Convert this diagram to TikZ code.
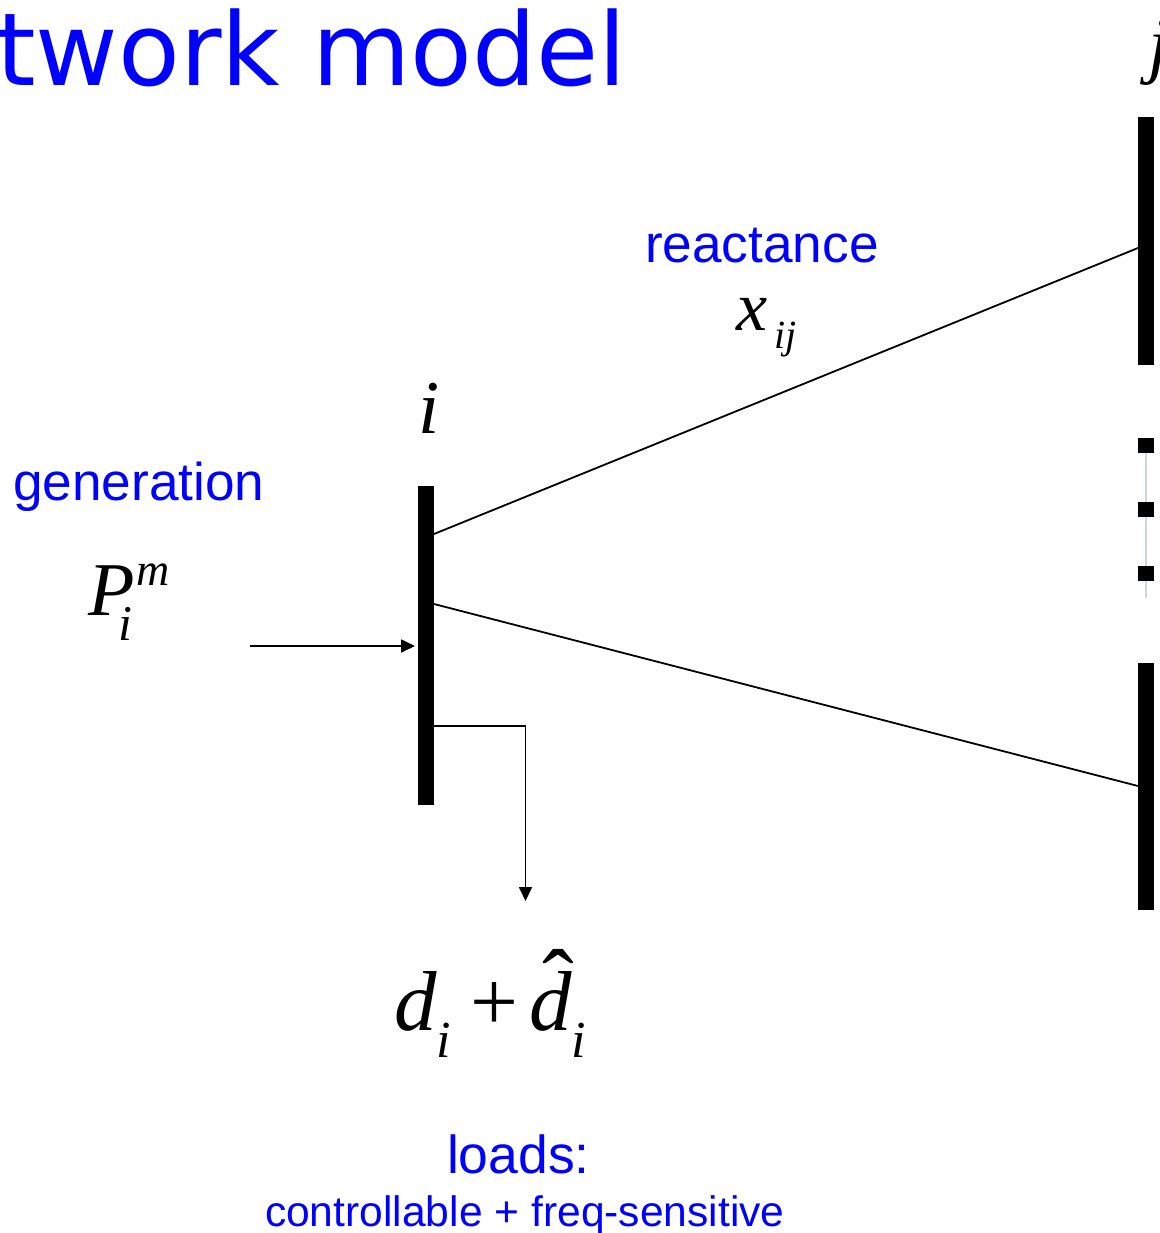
\documentclass[tikz,border=0pt]{standalone}
\usepackage{fontspec}
\setmainfont{Liberation Sans}
\newfontfamily\vera{DejaVu Sans}
\newfontfamily\tms{Liberation Serif}
\usetikzlibrary{arrows.meta}
\definecolor{tblue}{RGB}{0,0,255}
\definecolor{dotgray}{RGB}{208,214,222}
\newcommand{\fs}[1]{\fontsize{#1}{#1}\selectfont}
\tikzset{
  bus/.style={rectangle, fill=black, draw=none, inner sep=0pt, minimum width=16pt},
  busdot/.style={rectangle, fill=black, draw=none, inner sep=0pt, minimum width=16pt, minimum height=15pt},
  lbl/.style={inner sep=0pt, outer sep=0pt, anchor=base west, text=tblue},
  mth/.style={inner sep=0pt, outer sep=0pt, anchor=base west, font=\tms\itshape},
  wire/.style={line width=1.8pt, draw=black},
  tip/.style={-{Triangle[length=14pt,width=13pt]}}
}
\begin{document}
\begin{tikzpicture}[x=1pt,y=-1pt]
\useasboundingbox (0,0) rectangle (1159,1233);
% title
\node[lbl] (title) at (-4,86) {\vera\fs{101}twork model};
% buses
\node[bus, minimum height=319pt] (bi) at (426,645.5) {};
\node[bus, minimum height=248pt] (bj) at (1146,241) {};
\node[bus, minimum height=247pt] (bk) at (1146,786.5) {};
% dotted bus
\coordinate (gtop) at (1146,453);
\coordinate (gbot) at (1146,598);
\draw[dotgray, line width=2pt] (gtop) -- (gbot);
\node[busdot] (d1) at (1146,445.5) {};
\node[busdot] (d2) at (1146,509.5) {};
\node[busdot] (d3) at (1146,573.5) {};
% line endpoints
\coordinate (ia) at (434,534);
\coordinate (ib) at (434,604);
\coordinate (ic) at (420,726);
\coordinate (ja) at (1138,248);
\coordinate (ka) at (1138,786);
\coordinate (genstart) at (250,646);
\coordinate (genend) at (415,646);
\coordinate (corner) at (525.5,726);
\coordinate (loadend) at (525.5,901);
\draw[wire] (ia) -- (ja);
\draw[wire] (ib) -- (ka);
\draw[wire, tip] (genstart) -- (genend);
\draw[wire, tip] (ic) -- (corner) -- (loadend);
% blue labels
\node[lbl] (react) at (645,262) {\fs{53.2}reactance};
\node[lbl] (gen) at (13,500) {\fs{53.2}generation};
\node[lbl] (loads) at (447,1173) {\fs{53.5}loads:};
\node[lbl] (ctrl) at (265,1226) {\fs{42.6}controllable + freq-sensitive};
% math labels
\node[mth] (li) at (418,433) {\fs{76}i};
\node[mth] (lj) at (1148,70) {\fs{75}j};
\node[mth] (xx) at (736,330) {\fs{70}x};
\node[mth] (xij) at (774,348) {\fs{40}ij};
\node[mth] (PP) at (88,615) {\fs{76}P};
\node[mth] (Pm) at (136,585) {\fs{46}m};
\node[mth] (Pi) at (118,640) {\fs{50}i};
\node[mth] (d1l) at (394,1030) {\fs{85}d};
\node[mth] (d1i) at (436,1057) {\fs{52}i};
\node[inner sep=0pt, anchor=base west, font=\tms] (plus) at (470,1030) {\fs{85}+};
\node[mth] (d2l) at (529,1030) {\fs{85}d};
\node[mth] (d2i) at (571,1057) {\fs{52}i};
\node[inner sep=0pt, font=\tms] (hat) at (558,982) {\fs{95}ˆ};
\end{tikzpicture}
\end{document}
